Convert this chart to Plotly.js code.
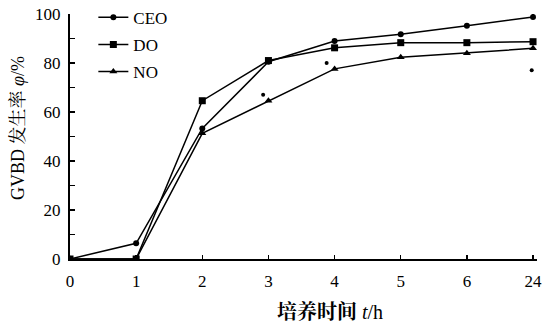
<!DOCTYPE html>
<html>
<head>
<meta charset="utf-8">
<script src="https://cdn.plot.ly/plotly-3.0.1.min.js"></script>
<style>html,body{margin:0;padding:0;background:#fff;}#chart{width:548px;height:323px;}</style>
</head>
<body>
<div id="chart"></div>
<script>
const hours = ["0", "1", "2", "3", "4", "5", "6", "24"];
const ceo = [0, 6.4, 53.3, 80.5, 89, 91.7, 95.2, 98.8];
const dox = [0, 0, 64.6, 81, 86.2, 88.3, 88.3, 88.7];
const nox = [0, 0, 51.3, 64.6, 77.6, 82.3, 84, 86];
const markX = [2.92, 3.88, 6.98];
const markY = [67, 80, 77];
const yTicks = [0, 20, 40, 60, 80, 100];

const font = "Liberation Serif, 'Noto Serif CJK SC', 'Noto Sans CJK SC', serif";
const line = {color: '#000', width: 1.5};

const traces = [
  {x: hours, y: ceo, name: 'CEO', legendgroup: 'a', mode: 'lines+markers', line: line,
   marker: {symbol: 'circle', size: 6, color: '#000'}},
  {x: hours, y: dox, name: 'DO', legendgroup: 'b', mode: 'lines+markers', line: line,
   marker: {symbol: 'square', size: 7, color: '#000'}},
  {x: hours, y: nox, name: 'NO', legendgroup: 'c', mode: 'lines+markers', line: line,
   marker: {symbol: 'triangle-up', size: 7, color: '#000'}},
  {x: markX, y: markY, xaxis: 'x2', mode: 'markers', showlegend: false,
   marker: {symbol: 'circle', size: 4, color: '#000'}}
];

const layout = {
  width: 548, height: 323,
  margin: {l: 70, r: 11, t: 14, b: 64, autoexpand: false},
  paper_bgcolor: '#fff', plot_bgcolor: '#fff',
  font: {family: font, color: '#000', size: 17},
  showlegend: true,
  legend: {x: 0.05, y: 1.058, xanchor: 'left', yanchor: 'top', bgcolor: 'rgba(0,0,0,0)',
           font: {family: font, size: 17}, tracegroupgap: 2, itemwidth: 30},
  xaxis: {
    type: 'category', categoryarray: hours, range: [0, 7.06], automargin: false,
    showline: true, linecolor: '#000', linewidth: 2, mirror: false,
    showgrid: false, zeroline: false,
    ticks: 'inside', ticklen: 4, tickwidth: 1.5, tickcolor: '#000',
    tickfont: {family: font, size: 17}, ticklabelstandoff: 6
  },
  xaxis2: {
    overlaying: 'x', range: [0, 7.06], visible: false, showgrid: false, zeroline: false
  },
  yaxis: {
    range: [0, 100], tickvals: yTicks, automargin: false,
    showline: true, linecolor: '#000', linewidth: 2,
    showgrid: false, zeroline: false,
    ticks: 'inside', ticklen: 5, tickwidth: 1.5, tickcolor: '#000',
    minor: {dtick: 10, ticks: 'inside', ticklen: 5, tickwidth: 1.5, tickcolor: '#000', showgrid: false},
    tickfont: {family: font, size: 17}, ticklabelstandoff: 4
  },
  annotations: [
    {text: '<b>培养时间</b> <i>t</i>/h', xref: 'paper', yref: 'paper', x: 0.557, y: 0,
     xanchor: 'center', yanchor: 'middle', yshift: -53, showarrow: false,
     font: {family: font, size: 20}},
    {text: 'GVBD 发生率 <i>φ</i>/%', xref: 'paper', yref: 'paper', x: 0, y: 0.535,
     xanchor: 'center', yanchor: 'middle', xshift: -52, textangle: -90, showarrow: false,
     font: {family: font, size: 18}}
  ]
};

Plotly.newPlot('chart', traces, layout, {displayModeBar: false, staticPlot: true});
</script>
</body>
</html>
